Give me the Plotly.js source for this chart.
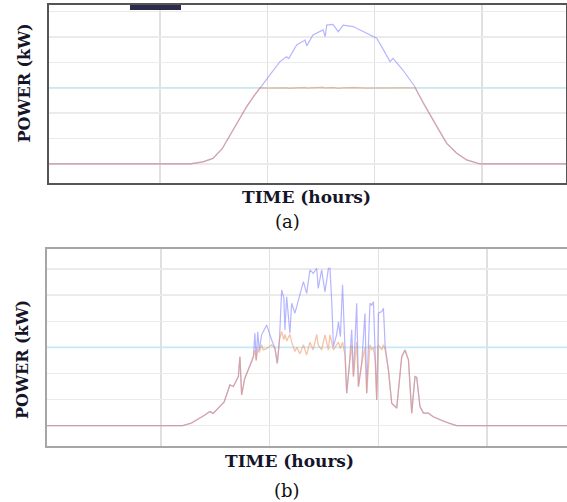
<!DOCTYPE html>
<html>
<head>
<meta charset="utf-8">
<script src="https://cdn.plot.ly/plotly-3.0.1.min.js"></script>
<style>html,body{margin:0;padding:0;background:#fff;}#chart{width:567px;height:502px;}</style>
</head>
<body>
<div id="chart"></div>
<script>
// ---- Panel (a): clear-sky day ----
const timeA = [-1, 6.4, 7.0, 7.47, 7.9, 8.26, 8.65, 9.04, 9.35, 9.66,
  10.1, 10.59, 10.9, 11.0, 11.37, 11.76, 11.84, 12.13, 12.6, 12.7,
  12.77, 13.06, 13.31, 13.54, 14.0, 14.63, 15.1, 15.33, 15.49, 15.72,
  15.86, 16.32, 16.88, 17.12, 17.2, 17.27, 17.9, 18.36, 18.83, 19.29, 19.91, 25];
const availableA = [0, 0, 0.08, 0.22, 0.6, 1.14, 1.72, 2.26, 2.64, 3.0,
  3.5, 4.03, 4.22, 4.15, 4.69, 4.88, 4.65, 5.08, 5.28, 5.02,
  5.47, 5.5, 5.21, 5.47, 5.41, 5.15, 4.95, 4.62, 4.36, 4.03,
  4.16, 3.70, 3.04, 2.65, 2.52, 2.39, 1.47, 0.81, 0.42, 0.16, 0, 0];
const outputA = [0, 0, 0.08, 0.22, 0.6, 1.14, 1.72, 2.26, 2.64, 3.0,
  2.99, 3.01, 3.0, 2.98, 3.0, 3.01, 2.99, 3.0, 3.02, 2.99,
  3.0, 3.01, 2.98, 3.0, 3.01, 2.99, 3.0, 3.0, 2.99, 3.0,
  2.99, 3.0, 3.0, 2.65, 2.52, 2.39, 1.47, 0.81, 0.42, 0.16, 0, 0];

// ---- Panel (b): cloudy day ----
const timeB = [-1, 6.0, 6.4, 6.79, 7.0, 7.25, 7.4, 7.7, 7.9, 8.17,
  8.33, 8.45, 8.56, 8.63, 8.71, 8.85, 8.94, 9.1, 9.25, 9.32,
  9.38, 9.45, 9.52, 9.63, 9.7, 9.86, 10.09, 10.24, 10.35, 10.45,
  10.55, 10.65, 10.7, 10.78, 10.93, 11.01, 11.16, 11.25, 11.39, 11.55,
  11.7, 11.85, 12.0, 12.16, 12.23, 12.39, 12.54, 12.7, 12.77, 12.85,
  12.93, 13.08, 13.16, 13.25, 13.35, 13.46, 13.54, 13.65, 13.77, 13.85,
  14.0, 14.08, 14.23, 14.38, 14.46, 14.61, 14.69, 14.77, 14.85, 14.92,
  15.0, 15.15, 15.23, 15.31, 15.46, 15.61, 15.84, 16.07, 16.22, 16.38,
  16.53, 16.68, 16.76, 16.91, 17.07, 17.3, 17.5, 17.83, 18.2, 18.6, 25];
const availableB = [0, 0, 0.1, 0.28, 0.4, 0.54, 0.47, 0.73, 0.9, 1.56,
  1.5, 1.7, 1.88, 2.64, 1.18, 1.8, 2.0, 2.3, 2.64, 3.54,
  2.5, 3.6, 2.9, 3.48, 3.6, 3.86, 3.28, 2.97, 2.39, 3.3,
  5.2, 4.9, 3.67, 4.94, 3.54, 4.69, 4.31, 4.6, 5.07, 5.52,
  5.07, 5.97, 5.84, 6.03, 5.26, 5.97, 5.13, 6.03, 6.03, 4.8,
  3.03, 3.5, 3.98, 3.41, 5.4, 3.03, 1.24, 2.2, 3.67, 1.88,
  4.69, 1.49, 2.39, 4.31, 1.24, 4.69, 4.62, 4.75, 2.52, 0.98,
  4.31, 4.37, 4.5, 3.03, 2.13, 0.86, 0.67, 2.64, 2.9, 2.52,
  0.48, 1.88, 1.85, 0.73, 0.48, 0.48, 0.35, 0.22, 0.1, 0, 0];
const outputB = [0, 0, 0.1, 0.28, 0.4, 0.54, 0.47, 0.73, 0.9, 1.56,
  1.5, 1.7, 1.88, 2.64, 1.18, 1.8, 2.0, 2.3, 2.64, 2.9,
  2.5, 2.95, 2.8, 3.1, 2.9, 2.95, 3.1, 2.97, 2.39, 3.3,
  3.6, 3.3, 3.5, 3.25, 3.5, 3.2, 2.84, 3.0, 2.75, 3.1,
  2.71, 3.2, 2.9, 3.5, 3.1, 2.9, 3.48, 2.9, 3.48, 3.2,
  2.9, 3.1, 3.2, 2.95, 3.2, 2.7, 1.24, 2.2, 3.1, 1.88,
  3.2, 1.49, 2.39, 3.0, 1.24, 3.1, 2.9, 3.0, 2.52, 0.98,
  3.1, 2.9, 3.1, 2.9, 2.13, 0.86, 0.67, 2.64, 2.9, 2.52,
  0.48, 1.88, 1.85, 0.73, 0.48, 0.48, 0.35, 0.22, 0.1, 0, 0];

const limitTime = [-1, 25];
const limitValue = 3;
const xGrid = [5, 10, 15, 20];
const yGrid = [0, 1, 2, 3, 4, 5, 6];
const yTitle = 'POWER (kW)';
const xTitle = 'TIME (hours)';
const panelLabels = ['(a)', '(b)'];

const W = 567, H = 502;
const blue = 'rgba(110,110,255,0.5)';
const orange = 'rgba(238,145,95,0.55)';
const cyan = '#c6eaf4';

function traces(t, av, out, xa, ya, dash) {
  return [
    {x: limitTime, y: [limitValue, limitValue], xaxis: xa, yaxis: ya, mode: 'lines',
     line: {color: cyan, width: 1.6}, hoverinfo: 'skip', showlegend: false},
    {x: t, y: av, xaxis: xa, yaxis: ya, mode: 'lines',
     line: {color: blue, width: 1.2}, showlegend: false},
    {x: t, y: out, xaxis: xa, yaxis: ya, mode: 'lines',
     line: {color: orange, width: 1.3, dash: dash}, showlegend: false}
  ];
}

const data = traces(timeA, availableA, outputA, 'x', 'y', 'solid')
  .concat(traces(timeB, availableB, outputB, 'x2', 'y2', 'solid'));

const gridX = {tickvals: xGrid, showticklabels: false, ticks: '', showgrid: true,
  gridcolor: '#e0e0e0', gridwidth: 1.5, zeroline: false, fixedrange: true};
const gridY = {tickvals: yGrid, showticklabels: false, ticks: '', showgrid: true,
  gridcolor: '#ebebeb', gridwidth: 1.5, zeroline: false, fixedrange: true};

const titleFont = {family: 'DejaVu Serif', size: 16, color: '#15152a'};
const layout = {
  width: W, height: H,
  margin: {l: 0, r: 0, t: 0, b: 0},
  paper_bgcolor: '#fff', plot_bgcolor: '#fff',
  showlegend: false,
  xaxis: Object.assign({}, gridX, {domain: [49 / W, 566 / W], range: [-0.17, 23.92], anchor: 'y',
    showline: true, mirror: true, linecolor: '#555', linewidth: 2}),
  yaxis: Object.assign({}, gridY, {domain: [1 - 183 / H, 1 - 5 / H], range: [-0.75, 6.26], anchor: 'x',
    showline: true, mirror: true, linecolor: '#555', linewidth: 2}),
  xaxis2: Object.assign({}, gridX, {domain: [47 / W, 1], range: [-0.24, 23.67], anchor: 'y2',
    showline: true, mirror: true, linecolor: '#a6a6a6', linewidth: 2}),
  yaxis2: Object.assign({}, gridY, {domain: [1 - 446 / H, 1 - 249 / H], range: [-0.78, 6.77], anchor: 'x2',
    showline: true, mirror: false, linecolor: '#a6a6a6', linewidth: 2}),
  shapes: [
    {type: 'rect', xref: 'paper', yref: 'paper', x0: 130 / W, x1: 181 / W, y0: 1 - 10 / H, y1: 1 - 5 / H,
     fillcolor: '#2b2b4d', line: {width: 0}}
  ],
  annotations: [
    {text: '<b>' + yTitle + '</b>', xref: 'paper', yref: 'paper', x: 24 / W, y: 1 - 83.5 / H,
     textangle: -90, showarrow: false, xanchor: 'center', yanchor: 'middle', font: titleFont},
    {text: '<b>' + yTitle + '</b>', xref: 'paper', yref: 'paper', x: 22 / W, y: 1 - 360 / H,
     textangle: -90, showarrow: false, xanchor: 'center', yanchor: 'middle', font: titleFont},
    {text: '<b>' + xTitle + '</b>', xref: 'paper', yref: 'paper', x: 306 / W, y: 1 - 197 / H,
     showarrow: false, xanchor: 'center', yanchor: 'middle', font: Object.assign({}, titleFont, {size: 17})},
    {text: '<b>' + xTitle + '</b>', xref: 'paper', yref: 'paper', x: 289 / W, y: 1 - 461 / H,
     showarrow: false, xanchor: 'center', yanchor: 'middle', font: Object.assign({}, titleFont, {size: 17})},
    {text: panelLabels[0], xref: 'paper', yref: 'paper', x: 287 / W, y: 1 - 221.5 / H,
     showarrow: false, xanchor: 'center', yanchor: 'middle', font: {family: 'DejaVu Serif', size: 18, color: '#111'}},
    {text: panelLabels[1], xref: 'paper', yref: 'paper', x: 287 / W, y: 1 - 490 / H,
     showarrow: false, xanchor: 'center', yanchor: 'middle', font: {family: 'DejaVu Serif', size: 18, color: '#111'}}
  ]
};

Plotly.newPlot('chart', data, layout, {staticPlot: true, displayModeBar: false});
</script>
</body>
</html>
